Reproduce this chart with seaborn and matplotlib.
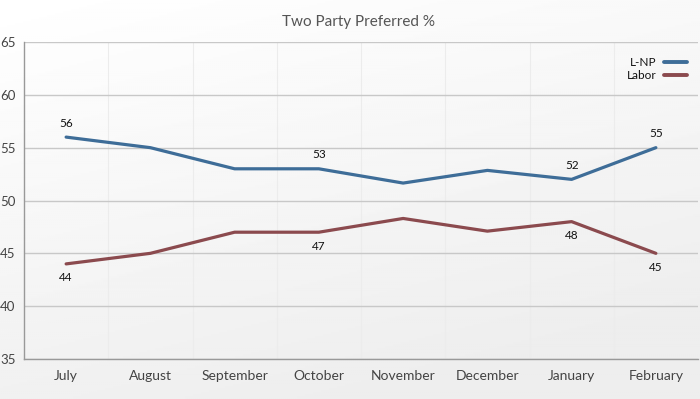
import numpy as np
import pandas as pd
import matplotlib
matplotlib.use("Agg")
import matplotlib.pyplot as plt
import seaborn as sns

months = ["July", "August", "September", "October", "November", "December", "January", "February"]
lnp = [56, 55, 53, 53, 51.65, 52.85, 52, 55]
labor = [44, 45, 47, 47, 48.3, 47.1, 48, 45]
lnp_labels = {0: "56", 3: "53", 6: "52", 7: "55"}
labor_labels = {0: "44", 3: "47", 6: "48", 7: "45"}
y_ticks = [35, 40, 45, 50, 55, 60, 65]

sns.set_theme(style="white")
plt.rcParams['font.family'] = ['Lato', 'DejaVu Sans']

fig = plt.figure(figsize=(7, 3.99), dpi=100)
# background gradient
bg = fig.add_axes([0, 0, 1, 1], zorder=-10)
yy, xx = np.mgrid[0:1:200j, 0:1:350j]
grad = 1.0 - 0.07 * np.clip((yy * 0.8 + xx * 0.35), 0, 1)
bg.imshow(grad, cmap="gray", vmin=0, vmax=1, aspect="auto", extent=[0, 1, 0, 1], origin="upper")
bg.axis("off")

ax = fig.add_axes([24/700, 1 - 359/399, 674/700, (359 - 42)/399])
ax.patch.set_alpha(0)

df = pd.DataFrame({"Month": months * 2,
                   "Value": lnp + labor,
                   "Party": ["L-NP"] * len(months) + ["Labor"] * len(months)})
palette = {"L-NP": "#3e6d98", "Labor": "#8b4a4e"}
df["x"] = list(range(len(months))) * 2
sns.lineplot(data=df, x="x", y="Value", hue="Party", palette=palette, linewidth=2.3, ax=ax, sort=False)

ax.set_xlim(-0.5, len(months) - 0.5)
ax.set_ylim(35, 65)
ax.set_yticks(y_ticks)
ax.set_xticks(range(len(months)))
ax.set_xticklabels(months)
ax.set_xticks(np.arange(-0.5, len(months), 1), minor=True)
ax.tick_params(axis="x", which="major", length=0, pad=8, labelsize=10, colors="#444444")
ax.tick_params(axis="x", which="minor", length=4, color="#999999", direction="out")
ax.tick_params(axis="y", length=4, color="#999999", labelsize=9.5, colors="#444444", pad=2)
ax.grid(axis="y", color="#c8c8c8", linewidth=1)
for xv in np.arange(0.5, len(months) - 0.5, 1):
    ax.axvline(xv, color="#ececec", linewidth=0.8, zorder=0)
for s in ["top", "right"]:
    ax.spines[s].set_visible(False)
for s in ["left", "bottom"]:
    ax.spines[s].set_color("#999999")
    ax.spines[s].set_linewidth(1)
ax.set_xlabel("")
ax.set_ylabel("")

for i, t in lnp_labels.items():
    ax.annotate(t, (i, lnp[i]), xytext=(0, 6), textcoords="offset points", ha="center", va="bottom", fontsize=8.5, color="#111111")
for i, t in labor_labels.items():
    ax.annotate(t, (i, labor[i]), xytext=(0, -6), textcoords="offset points", ha="center", va="top", fontsize=8.5, color="#111111")

leg = ax.legend(title=None, loc="upper right", bbox_to_anchor=(1.0, 0.985), frameon=False, markerfirst=False,
                fontsize=8.5, handlelength=2.0, handletextpad=0.6, labelspacing=0.15)
for line in leg.get_lines():
    line.set_linewidth(2.8)
for t in leg.get_texts():
    t.set_color("#111111")

fig.text(358/700, 1 - 22/399, "Two Party Preferred %", ha="center", va="center", fontsize=11, color="#555555")

fig.savefig("out.png", dpi=100)
